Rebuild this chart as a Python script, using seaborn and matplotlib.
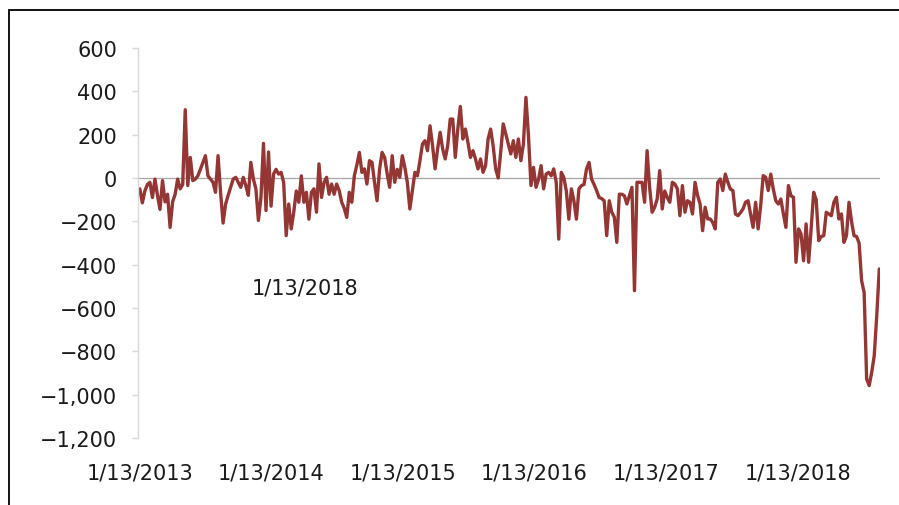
import pandas as pd
import matplotlib
matplotlib.use('Agg')
import matplotlib.pyplot as plt
from matplotlib.lines import Line2D
from matplotlib.ticker import FuncFormatter
import seaborn as sns

# Weekly values, one list per year (weeks start 1/13/2013)
values_2013 = [-50, -115, -60, -30, -20, -90, -5, -80, -145, -12, -110, -75, -228,
               -110, -75, -5, -50, -30, 315, -35, 95, -12, -5, 10, 40, 72, 103, 10,
               -5, -20, -66, 103, -66, -208, -120, -80, -43, -5, 3, -20, -43, 3, -35,
               -80, 72, -5, -50, -196, -90, 160, -150, 120]
values_2014 = [-130, 18, 40, 18, 26, -20, -266, -120, -235, -158, -60, -112, 10,
               -112, -66, -190, -66, -50, -158, 65, -90, -20, 3, -75, -28, -75, -28,
               -58, -112, -140, -182, -66, -112, 10, 60, 118, 26, 42, -28, 80, 72,
               -20, -105, 40, 118, 95, 20, -43, 103, -20, 40, 3]
values_2015 = [103, 50, -20, -143, -60, 26, 10, 80, 157, 172, 126, 241, 149, 42,
               134, 211, 134, 88, 149, 272, 272, 95, 226, 330, 180, 226, 165, 95, 126,
               88, 42, 88, 26, 57, 180, 226, 149, 42, 0, 120, 250, 203, 157, 111, 172,
               95, 180, 80, 157, 372, 195, -35]
values_2016 = [49, -43, -5, 57, -50, 18, 26, 10, 42, -20, -282, 26, 3, -60, -190,
               -50, -105, -190, -50, -35, -30, 42, 72, -5, -30, -58, -90, -95, -105,
               -266, -105, -158, -180, -297, -75, -75, -82, -120, -82, -43, -520, -20,
               -20, -20, -112, 126, -43, -158, -135, -97, 34, -143]
values_2017 = [-60, -90, -112, -20, -28, -50, -174, -35, -158, -105, -112, -166, -20,
               -80, -120, -243, -135, -189, -189, -205, -235, -20, -5, -58, 18, -20,
               -51, -58, -166, -174, -160, -143, -112, -105, -166, -228, -112, -235,
               -128, 11, 3, -58, 18, -51, -105, -120, -97, -166, -228, -35, -82, -89]
values_2018 = [-389, -235, -258, -382, -212, -389, -235, -66, -100, -289, -270, -266,
               -158, -166, -174, -112, -89, -189, -166, -297, -266, -112, -200, -266,
               -270, -300, -474, -528, -928, -958, -897, -820, -635, -420]

tick_dates = ['2013-01-13', '2014-01-13', '2015-01-13', '2016-01-13', '2017-01-13', '2018-01-13']
tick_labels = ['1/13/2013', '1/13/2014', '1/13/2015', '1/13/2016', '1/13/2017', '1/13/2018']
y_ticks = [600, 400, 200, 0, -200, -400, -600, -800, -1000, -1200]

values = values_2013 + values_2014 + values_2015 + values_2016 + values_2017 + values_2018
df = pd.DataFrame({
    'date': pd.date_range('2013-01-13', periods=len(values), freq='7D'),
    'value': values,
})

sns.set_style('white')
plt.rcParams['font.family'] = ['DejaVu Sans']

fig = plt.figure(figsize=(8.99, 5.06), dpi=100)
ax = fig.add_axes([138 / 899, 1 - 439 / 506, 742 / 899, 390 / 506])

ax.axhline(0, color='#a6a6a6', lw=0.9, zorder=1)
sns.lineplot(data=df, x='date', y='value', ax=ax, color='#943634', lw=2.4, zorder=2)

ax.set_ylim(-1200, 600)
ax.set_xlim(df['date'].iloc[0] - pd.Timedelta(days=5), df['date'].iloc[-1] + pd.Timedelta(days=2))
ax.set_yticks(y_ticks)
ax.yaxis.set_major_formatter(FuncFormatter(
    lambda v, p: ('\u2212' if v < 0 else '') + f'{abs(int(v)):,}'))
ax.set_xticks(pd.to_datetime(tick_dates))
ax.set_xticklabels(tick_labels)
ax.set_xlabel('')
ax.set_ylabel('')

for side in ['top', 'right', 'bottom']:
    ax.spines[side].set_visible(False)
ax.spines['left'].set_color('#d9d9d9')
ax.spines['left'].set_linewidth(1)
ax.tick_params(axis='y', length=4, width=1, color='#d9d9d9', pad=11,
               labelsize=15, labelcolor='#1a1a1a', left=True)
ax.tick_params(axis='x', length=0, pad=18, labelsize=15, labelcolor='#1a1a1a')

# stray date label sitting inside the plot
ax.text(pd.Timestamp('2014-04-15'), -505, '1/13/2018', fontsize=15,
        color='#1a1a1a', ha='center', va='center')

# outer frame (top and left edges)
fig.add_artist(Line2D([9 / 899, 1], [1 - 11 / 506] * 2, transform=fig.transFigure,
                      color='black', lw=1.3))
fig.add_artist(Line2D([9 / 899] * 2, [0, 1 - 11 / 506], transform=fig.transFigure,
                      color='black', lw=1.3))

fig.savefig('out.png', dpi=100)
